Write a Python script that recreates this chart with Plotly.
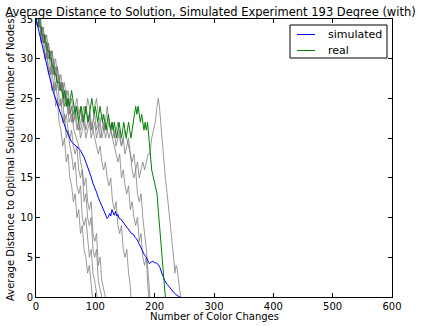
import plotly.graph_objects as go

# ---- data ----
blue_x = [0,3,6,9,12,15,18,21,24,27,30,33,36,39,42,45,48,51,54,57,60,63,66,69,72,75,78,81,84,87,90,93,96,99,102,105,108,111,114,117,120,122,124,126,128,130,132,134,136,138,140,143,146,149,152,155,158,161,164,167,170,173,176,179,182,185,188,191,194,197,200,203,206,209,212,215,218,221,224,227,230,233,236,239,241,243]
blue_y = [35,34,33,32,31,30,29,28,27.2,26.4,25.6,24.9,24.2,23.6,22.9,22.2,21.6,21,20.5,20,19.5,19.3,19.1,19,18.8,18.5,18,17.6,17,16.4,15.8,15.1,14.3,13.8,13.2,12.5,12,11.4,10.8,10.5,9.9,10.1,10.5,10.2,11,10.6,10.3,10.8,10.2,10.4,9.9,9.8,9.5,9.2,9.0,8.7,8.4,8.0,7.9,7.5,7.3,6.8,6.2,5.8,5.4,5.1,4.7,4.2,4.4,4.5,4.3,4.3,4.1,3.7,3.0,2.3,1.9,1.6,1.3,1.0,0.7,0.5,0.3,0.1,0.05,0]

green_x = [0,4,5,9,10,14,15,18,19,22,23,26,27,30,31,34,35,40,41,44,46,48,50,52,54,56,58,60,62,64,66,68,70,72,74,76,78,80,82,84,86,88,90,92,94,96,98,100,102,104,106,108,110,112,114,116,118,120,122,124,126,128,130,132,134,136,138,140,142,144,146,148,150,152,154,156,158,160,162,164,166,168,170,172,174,176,178,180,182,184,186,188,190,192,195,198,201,204,206,209,212,215,218]
green_y = [35,35,34,34,33,33,32,32,31,31,30,30,29,29,28,28,27,27,26,26,25,26,25,24,25,24,25,26,25,24,23,24,23,22,23,24,23,22,23,24,23,22,23,24,25,24,23,24,23,22,23,24,23,22,23,22,21,22,23,22,21,22,21,22,21,20,21,22,21,20,21,22,21,20,21,22,21,20,21,22,23,24,23,24,23,22,23,22,21,22,21,22,20,18,16,15,14,13,11,8,6,3,0]

g1_x = [0,3,6,9,12,15,18,21,24,27,30,33,36,39,42,45,48,51,54,57,60,63,66,69,72,75,78,81,84,87,90,93,95]
g1_y = [35,34,35,32,33,30,31,28,29,26,27,24,25,22,21,19,20,17,18,15,14,12,13,10,11,8,9,6,5,3,4,1,0]

g2_x = [0,3,6,9,12,15,18,21,24,27,30,33,36,39,42,45,48,51,54,57,60,63,66,69,72,75,78,81,84,87,90,93,96,99,101,103]
g2_y = [35,34,35,32,33,30,31,29,28,29,26,27,25,24,25,22,23,20,21,19,18,16,17,14,13,14,10,9,10,7,5,6,3,2,1,0]

g3_x = [0,3,6,9,12,15,18,21,24,27,30,33,36,39,42,45,48,51,54,57,60,63,66,69,72,75,78,81,84,87,90,93,96,99,102,105,108,111]
g3_y = [35,34,35,33,32,33,30,31,29,28,29,26,27,25,24,25,22,23,21,20,21,19,18,19,16,15,16,12,13,10,9,10,6,5,6,2,1,0]

g4_x = [0,4,8,12,16,20,24,28,32,36,40,44,48,52,56,60,64,68,72,75,78,81,84,87,90,93,96,99,102,105,108,111,114,117]
g4_y = [35,34,35,32,33,30,31,29,28,29,26,27,24,25,22,23,21,20,19,17,16,14,15,12,11,12,8,7,8,4,5,2,1,0]

g5_x = [0,3,6,9,12,15,18,21,24,27,30,33,36,39,42,45,48,51,54,57,60,63,66,69,72,75,78,81,84,87,90,93,96,99,102,105,108,111,114,117,120,123,126,129,132,135,138,141,144,147,150,153,156,158,160]
g5_y = [35,34,35,33,32,33,31,30,31,29,28,29,27,26,27,25,24,25,23,24,22,23,24,22,21,22,23,24,23,25,24,22,21,20,19,18,19,17,16,17,15,14,15,12,11,12,9,8,9,6,5,6,3,2,0]

g6_x = [0,3,6,9,12,15,18,21,24,27,30,33,36,39,42,45,48,51,54,57,60,63,66,69,72,75,78,81,84,87,90,93,96,99,102,105,108,111,114,117,120,123,126,129,132,135,138,141,144,147,150,153,156,159,162,165,168,171,174,177,180,183,186,188,190]
g6_y = [35,34,35,33,34,32,31,32,30,31,29,28,29,27,26,27,25,26,24,23,24,22,23,24,22,21,22,23,21,22,23,21,22,24,25,23,22,23,21,22,24,22,21,20,19,18,17,18,15,16,14,13,14,11,12,10,9,10,7,8,5,4,5,2,0]

g7_x = [0,3,6,9,12,15,18,21,24,27,30,33,36,39,42,45,48,51,54,57,60,63,66,69,72,75,78,81,84,87,90,93,96,99,102,105,108,111,114,117,120,123,126,129,132,135,138,141,144,147,150,153,156,159,162,165,168,171,174,177,180,183,186,189,192]
g7_y = [35,34,35,33,32,33,31,32,30,29,30,28,27,28,26,27,25,24,25,23,24,22,23,21,22,20,21,22,20,21,22,20,21,22,20,21,22,20,21,22,21,20,21,22,20,21,22,20,19,20,21,20,19,18,16,15,16,13,12,13,10,8,6,3,0]

g8_x = [0,3,6,9,12,15,18,21,24,27,30,33,36,39,42,45,48,51,54,57,60,63,66,69,72,75,78,81,84,87,90,93,96,99,102,105,108,111,114,117,120,123,126,129,132,135,138,141,144,147,150,153,156,159,162,165,168,171,174,177,180,183,186,189,192,195,198,201,204,206,208,209,211,213,215,218,221,224,227,230,232,234,236,238,240,242,244]
g8_y = [35,34,35,33,34,32,33,31,30,31,29,30,28,27,28,26,27,25,26,24,25,23,24,25,23,24,22,23,24,22,23,21,22,23,21,22,20,21,22,20,21,22,21,20,21,19,20,21,19,20,18,19,20,18,17,18,16,17,15,16,17,16,17,18,18,20,21,22,24,25,24,23,21,19,18,15,13,11,9,7,5,3,4,3.5,2,1,0]

gray_runs = [(g1_x, g1_y), (g2_x, g2_y), (g3_x, g3_y), (g4_x, g4_y),
             (g5_x, g5_y), (g6_x, g6_y), (g7_x, g7_y), (g8_x, g8_y)]

x_ticks = [0, 100, 200, 300, 400, 500, 600]
y_ticks = [0, 5, 10, 15, 20, 25, 30, 35]

title_text = "Average Distance to Solution, Simulated Experiment 193 Degree (with)"
x_title = "Number of Color Changes"
y_title = "Average Distance to Optimal Solution (Number of Nodes)"
legend_names = ["simulated", "real"]
legend_colors = ["#0000ff", "#008000"]

# ---- figure ----
W, H = 421, 326
ml, mr, mt, mb = 36, 29, 19, 29
PW, PH = W - ml - mr, H - mt - mb
FONT = "DejaVu Sans"

def px_x(p):  # pixel -> paper x
    return (p - ml) / PW

def px_y(p):  # pixel -> paper y
    return (H - mb - p) / PH

fig = go.Figure()
for gx, gy in gray_runs:
    fig.add_trace(go.Scatter(x=gx, y=gy, mode="lines", showlegend=False,
                             line=dict(color="rgba(120,120,120,0.75)", width=1),
                             hoverinfo="skip"))
fig.add_trace(go.Scatter(x=blue_x, y=blue_y, mode="lines", name=legend_names[0],
                         showlegend=False, line=dict(color=legend_colors[0], width=1)))
fig.add_trace(go.Scatter(x=green_x, y=green_y, mode="lines", name=legend_names[1],
                         showlegend=False, line=dict(color=legend_colors[1], width=1)))

axis_common = dict(showgrid=False, zeroline=False, showline=True, linecolor="black",
                   linewidth=1, mirror="allticks", ticks="inside", ticklen=4,
                   tickcolor="black", tickfont=dict(family=FONT, size=10, color="black"))

# hand-drawn legend box (matplotlib style)
shapes = [dict(type="rect", xref="paper", yref="paper",
               x0=px_x(290), x1=px_x(387), y0=px_y(58), y1=px_y(25),
               line=dict(color="black", width=1), fillcolor="white", layer="above")]
annotations = []
for i, (nm, col) in enumerate(zip(legend_names, legend_colors)):
    yy = 34.5 + 16 * i
    shapes.append(dict(type="line", xref="paper", yref="paper",
                       x0=px_x(297), x1=px_x(315), y0=px_y(yy), y1=px_y(yy),
                       line=dict(color=col, width=1), layer="above"))
    annotations.append(dict(text=nm, xref="paper", yref="paper", x=px_x(326), y=px_y(yy),
                            xanchor="left", yanchor="middle", showarrow=False,
                            font=dict(family=FONT, size=11, color="black")))

annotations += [
    dict(text=x_title, xref="paper", yref="paper", x=0.5,
         y=px_y(316), xanchor="center", yanchor="middle",
         showarrow=False, font=dict(family=FONT, size=10, color="black")),
    dict(text=y_title, xref="paper", yref="paper", x=px_x(10),
         y=0.5, xanchor="center", yanchor="middle", textangle=-90,
         showarrow=False, font=dict(family=FONT, size=10, color="black")),
]

fig.update_layout(
    width=W, height=H,
    margin=dict(l=ml, r=mr, t=mt, b=mb, pad=0),
    paper_bgcolor="white", plot_bgcolor="white",
    font=dict(family=FONT, color="black"),
    showlegend=False,
    title=dict(text=title_text, x=0.5, xanchor="center", xref="container",
               y=1 - 11.5 / H, yref="container", yanchor="middle",
               font=dict(family=FONT, size=11.5, color="black")),
    xaxis=dict(range=[0, 600], tickvals=x_ticks, ticktext=[str(v) for v in x_ticks], **axis_common),
    yaxis=dict(range=[0, 35], tickvals=y_ticks, ticktext=[str(v) for v in y_ticks], **axis_common),
    shapes=shapes,
    annotations=annotations,
)

fig.write_html("out.html")
